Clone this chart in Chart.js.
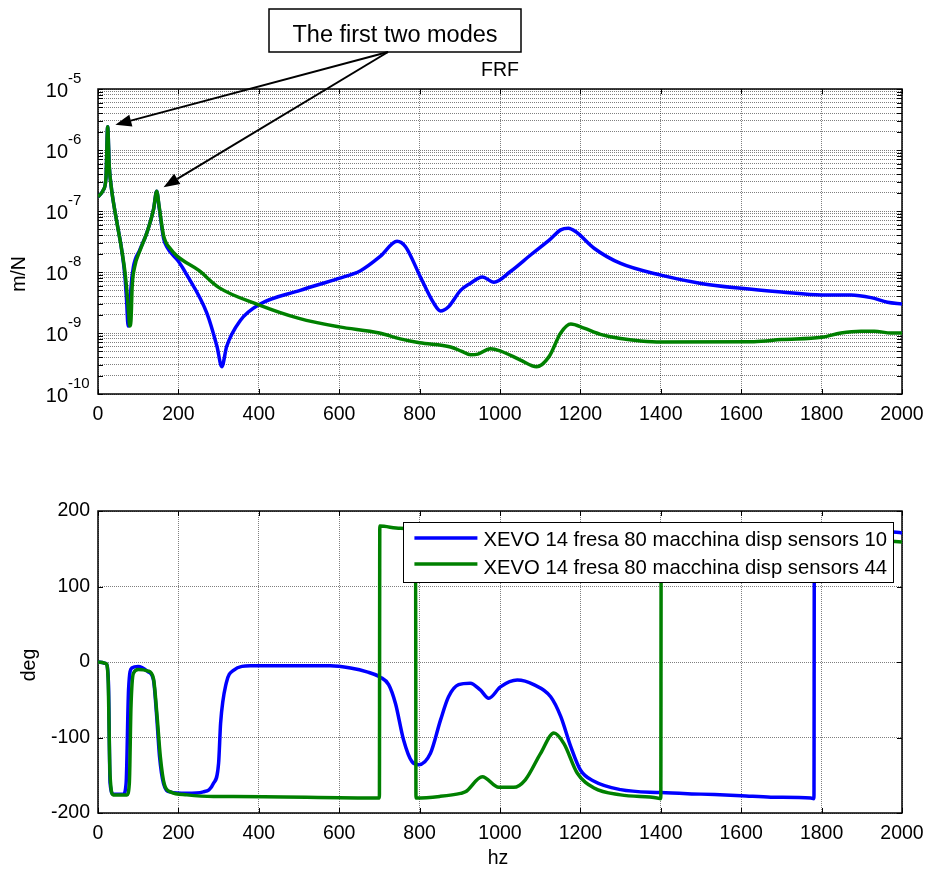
<!DOCTYPE html>
<html>
<head>
<meta charset="utf-8">
<title>FRF</title>
<script src="https://cdn.jsdelivr.net/npm/chart.js@4.4.0/dist/chart.umd.min.js"></script>
<style>
  body { margin: 0; background: #fff; }
  #wrap { position: relative; width: 925px; height: 869px; }
  #magChart { position: absolute; left: 0; top: 0; }
  #phaseChart { position: absolute; left: 0; top: 440px; }
</style>
</head>
<body>
<div id="wrap">
  <canvas id="magChart" width="925" height="440"></canvas>
  <canvas id="phaseChart" width="925" height="429"></canvas>
</div>
<script>
// series names
const seriesLabels = [
  'XEVO 14 fresa 80 macchina disp sensors 10',
  'XEVO 14 fresa 80 macchina disp sensors 44'
];
const seriesColors = ['#0000ff', '#008000'];

// magnitude (m/N) - sensor 10
const blueMagHz = [0, 13, 20, 24, 28, 34, 46, 59, 67, 71, 75, 78, 82, 88, 104, 121, 138, 146, 152, 163,
  171, 200, 221, 271, 296, 308, 320, 354, 400, 503, 597, 653, 702, 744, 765, 802, 835, 852, 872, 902,
  926, 956, 985, 1026, 1076, 1126, 1151, 1170, 1188, 1234, 1300, 1400, 1500, 1600, 1700, 1800, 1873, 1923, 1964, 2000];
const blueMag = [1.7e-7, 2.2e-7, 3.6e-7, 2.4e-6, 5.4e-7, 2.2e-7, 7.1e-8, 2.3e-8, 8.5e-9, 3.5e-9, 1.3e-9, 1.6e-9, 5.5e-9, 1.2e-8, 2.3e-8, 4.3e-8, 1.05e-7, 2.1e-7, 1.15e-7, 3.6e-8,
  2.6e-8, 1.5e-8, 9.0e-9, 2.1e-9, 6.0e-10, 2.8e-10, 6.0e-10, 1.6e-9, 2.9e-9, 5.0e-9, 7.8e-9, 1.05e-8, 1.8e-8, 3.2e-8, 2.6e-8, 8.3e-9, 3.1e-9, 2.3e-9, 2.7e-9, 5.0e-9,
  6.5e-9, 8.3e-9, 6.8e-9, 1.02e-8, 1.9e-8, 3.5e-8, 4.9e-8, 5.2e-8, 4.6e-8, 2.45e-8, 1.38e-8, 8.9e-9, 6.5e-9, 5.4e-9, 4.7e-9, 4.2e-9, 4.2e-9, 3.8e-9, 3.2e-9, 3.0e-9];

// magnitude (m/N) - sensor 44
const greenMagHz = [0, 13, 20, 24, 28, 34, 46, 59, 67, 73, 76, 79, 82, 85, 91, 105, 121, 138, 146, 152,
  163, 180, 200, 250, 300, 400, 500, 600, 700, 752, 800, 877, 905, 927, 945, 976, 1000, 1051, 1091, 1122,
  1151, 1176, 1209, 1250, 1300, 1350, 1400, 1632, 1700, 1800, 1848, 1898, 1931, 1973, 2000];
const greenMag = [1.7e-7, 2.2e-7, 3.6e-7, 2.4e-6, 5.4e-7, 2.2e-7, 7.1e-8, 2.3e-8, 1.0e-8, 4.0e-9, 2.2e-9, 1.3e-9, 1.6e-9, 5.8e-9, 1.2e-8, 2.3e-8, 4.3e-8, 1.05e-7, 2.1e-7, 1.2e-7,
  4.0e-8, 2.4e-8, 1.75e-8, 1.07e-8, 5.6e-9, 2.9e-9, 1.74e-9, 1.26e-9, 1.0e-9, 8.0e-10, 6.9e-10, 5.9e-10, 5.0e-10, 4.4e-10, 4.5e-10, 5.5e-10, 5.1e-10, 3.6e-10, 2.8e-10, 4.1e-10,
  1.0e-9, 1.4e-9, 1.2e-9, 9.5e-10, 8.1e-10, 7.4e-10, 7.1e-10, 7.2e-10, 7.8e-10, 8.5e-10, 1.0e-9, 1.07e-9, 1.07e-9, 1.0e-9, 1.0e-9];

// phase (deg) - sensor 10
const bluePhaseHz = [0, 20, 26, 30, 38, 63, 70, 76, 84, 100, 125, 138, 146, 153, 163, 179, 221, 262, 287, 300,
  305, 319, 337, 379, 578, 628, 669, 702, 723, 740, 760, 781, 798, 827, 852, 872, 897, 926, 951, 972,
  1001, 1043, 1084, 1126, 1151, 1176, 1200, 1234, 1300, 1400, 1500, 1600, 1674, 1773, 1781, 1782, 1900, 2000];
const bluePhase = [0, -2, -28, -160, -175, -175, -160, -37, -8, -6, -13, -24, -72, -125, -161, -172, -174, -172, -161, -134,
  -81, -28, -11, -5, -5, -8, -13, -20, -30, -55, -103, -132, -136, -121, -77, -46, -30, -28, -37, -48,
  -33, -24, -30, -46, -72, -112, -143, -158, -169, -173, -175, -177, -179, -180, -181, 180, 176, 171];

// phase (deg) - sensor 44
const greenPhaseHz = [0, 20, 25, 30, 38, 72, 78, 82, 88, 100, 125, 138, 147, 155, 165, 180, 221, 287, 337, 700,
  701, 752, 790, 791, 850, 902, 914, 956, 997, 1034, 1063, 1101, 1134, 1159, 1192, 1234, 1300, 1391, 1400, 1401,
  1600, 1800, 2000];
const greenPhase = [0, -2, -20, -150, -176, -176, -160, -60, -15, -10, -12, -22, -72, -125, -162, -172, -176, -178, -178, -180,
  180, 177, 174, -180, -178, -174, -172, -152, -166, -166, -156, -121, -94, -108, -147, -167, -176, -180, -181, 180,
  174, 167, 159];

// axes
const xTicks = [0, 200, 400, 600, 800, 1000, 1200, 1400, 1600, 1800, 2000];
const magDecades = [1e-10, 1e-9, 1e-8, 1e-7, 1e-6, 1e-5];
const phaseTicks = [-200, -100, 0, 100, 200];

// annotation
const noteText = 'The first two modes';
const modeHz = [24, 146];
const modeMag = [2.4e-6, 2.1e-7];

const FONT = '"Liberation Sans", Arial, sans-serif';
Chart.defaults.font.family = FONT;
Chart.defaults.font.size = 19.5;
Chart.defaults.color = '#000';

function pairs(xs, ys) {
  return xs.map((x, i) => ({ x: x, y: ys[i] }));
}

function lineSet(i, xs, ys) {
  return {
    label: seriesLabels[i],
    data: pairs(xs, ys),
    borderColor: seriesColors[i],
    borderWidth: 3.5,
    borderJoinStyle: 'round',
    cubicInterpolationMode: 'monotone',
    pointRadius: 0,
    order: seriesLabels.length - i   // later series drawn on top, like matlab
  };
}

const gridOpts = { color: 'rgba(0,0,0,0.5)', lineWidth: 1, drawTicks: false };
const borderOpts = { display: false, dash: [1, 1] };

// box round the plot + inner tick marks (matlab style)
const frameTicks = {
  id: 'frameTicks',
  beforeDatasetsDraw(chart) {
    const { ctx, chartArea: a, scales: { x, y } } = chart;
    ctx.save();
    ctx.strokeStyle = '#000';
    ctx.lineWidth = 1;
    ctx.beginPath();
    x.ticks.forEach(t => {
      const px = Math.round(x.getPixelForValue(t.value)) + 0.5;
      ctx.moveTo(px, a.top); ctx.lineTo(px, a.top + 5);
      ctx.moveTo(px, a.bottom); ctx.lineTo(px, a.bottom - 5);
    });
    y.ticks.forEach(t => {
      const py = Math.round(y.getPixelForValue(t.value)) + 0.5;
      ctx.moveTo(a.left, py); ctx.lineTo(a.left + 5, py);
      ctx.moveTo(a.right, py); ctx.lineTo(a.right - 5, py);
    });
    ctx.stroke();
    ctx.lineWidth = 1.5;
    ctx.strokeRect(a.left, a.top, a.right - a.left, a.bottom - a.top);
    ctx.restore();
  }
};

// 10^n labels for the log axis
const logLabels = {
  id: 'logLabels',
  afterDraw(chart) {
    const { ctx, chartArea: a, scales: { y } } = chart;
    ctx.save();
    ctx.fillStyle = '#000';
    ctx.textBaseline = 'alphabetic';
    magDecades.forEach(d => {
      const py = y.getPixelForValue(d);
      ctx.font = '20px ' + FONT;
      ctx.textAlign = 'right';
      ctx.fillText('10', a.left - 30, py + 8);
      ctx.font = '15px ' + FONT;
      ctx.textAlign = 'left';
      ctx.fillText(String(Math.round(Math.log10(d))), a.left - 30, py - 6);
    });
    ctx.font = '19.5px ' + FONT;
    ctx.translate(a.left - 78, a.top + 185);
    ctx.rotate(-Math.PI / 2);
    ctx.textAlign = 'center';
    ctx.textBaseline = 'middle';
    ctx.fillText('m/N', 0, 0);
    ctx.restore();
  }
};

// text box with arrows to the first two peaks
const modeNote = {
  id: 'modeNote',
  afterDraw(chart) {
    const { ctx, chartArea: a, scales: { x, y } } = chart;
    const bx = a.left + 171, by = a.top - 80, bw = 252, bh = 43;
    ctx.save();
    ctx.fillStyle = '#fff';
    ctx.fillRect(bx, by, bw, bh);
    ctx.strokeStyle = '#000';
    ctx.lineWidth = 1.5;
    ctx.strokeRect(bx, by, bw, bh);
    ctx.fillStyle = '#000';
    ctx.font = '23.5px ' + FONT;
    ctx.textAlign = 'center';
    ctx.textBaseline = 'alphabetic';
    ctx.fillText(noteText, bx + 126, by + 33);

    const ox = bx + 119, oy = by + bh;
    modeHz.forEach((f, i) => {
      const px = x.getPixelForValue(f), py = y.getPixelForValue(modeMag[i]);
      const dx = px - ox, dy = py - oy, len = Math.hypot(dx, dy);
      const ux = dx / len, uy = dy / len;
      const tx = px - ux * 8, ty = py - uy * 8;
      const hx = tx - ux * 16, hy = ty - uy * 16;
      ctx.lineWidth = 2;
      ctx.beginPath();
      ctx.moveTo(ox, oy);
      ctx.lineTo(hx, hy);
      ctx.stroke();
      ctx.beginPath();
      ctx.moveTo(tx, ty);
      ctx.lineTo(hx - uy * 6, hy + ux * 6);
      ctx.lineTo(hx + uy * 6, hy - ux * 6);
      ctx.closePath();
      ctx.fill();
    });
    ctx.restore();
  }
};

// legend box inside the phase plot
const boxLegend = {
  id: 'boxLegend',
  afterDatasetsDraw(chart) {
    const { ctx, chartArea: a } = chart;
    const sets = chart.data.datasets;
    ctx.save();
    ctx.font = '20.3px ' + FONT;
    const tw = Math.max(...sets.map(d => ctx.measureText(d.label).width));
    const right = a.right - 9, left = right - 6 - tw - 80, top = a.top + 11, h = 60;
    ctx.fillStyle = '#fff';
    ctx.fillRect(left, top, right - left, h);
    ctx.strokeStyle = '#000';
    ctx.lineWidth = 1;
    ctx.strokeRect(Math.round(left) + 0.5, top + 0.5, right - Math.round(left), h);
    sets.forEach((d, i) => {
      const ly = top + 16 + 26 * i;
      ctx.strokeStyle = d.borderColor;
      ctx.lineWidth = 3.5;
      ctx.beginPath();
      ctx.moveTo(left + 11, ly);
      ctx.lineTo(left + 74, ly);
      ctx.stroke();
      ctx.fillStyle = '#000';
      ctx.textAlign = 'left';
      ctx.textBaseline = 'alphabetic';
      ctx.fillText(d.label, left + 80, top + 24 + 28 * i);
    });
    ctx.restore();
  }
};

const phaseTitles = {
  id: 'phaseTitles',
  afterDraw(chart) {
    const { ctx, chartArea: a } = chart;
    ctx.save();
    ctx.fillStyle = '#000';
    ctx.font = '19.5px ' + FONT;
    ctx.textAlign = 'center';
    ctx.textBaseline = 'middle';
    ctx.fillText('hz', (a.left + a.right) / 2 - 2, a.bottom + 46);
    ctx.translate(a.left - 68, (a.top + a.bottom) / 2 + 3);
    ctx.rotate(-Math.PI / 2);
    ctx.fillText('deg', 0, 0);
    ctx.restore();
  }
};

const xScale = (h) => ({
  type: 'linear',
  min: 0,
  max: 2000,
  afterBuildTicks: s => { s.ticks = xTicks.map(v => ({ value: v })); },
  afterFit: s => {
    s.height = h;
    // let the end labels hang over, like matlab does
    s.paddingLeft = 0;
    s.paddingRight = 0;
  },
  ticks: { padding: 9, maxRotation: 0, autoSkip: false, color: '#000', callback: v => String(v) },
  grid: gridOpts,
  border: borderOpts
});

new Chart(document.getElementById('magChart'), {
  type: 'line',
  data: {
    datasets: [lineSet(0, blueMagHz, blueMag), lineSet(1, greenMagHz, greenMag)]
  },
  options: {
    responsive: false,
    animation: false,
    layout: { padding: { left: 0, right: 23, top: 58.6, bottom: 0 } },
    plugins: {
      legend: { display: false },
      tooltip: { enabled: false },
      title: {
        display: true,
        text: 'FRF',
        fullSize: false,
        color: '#000',
        font: { size: 19.5, weight: 'normal' },
        padding: { top: 0, bottom: 7 }
      }
    },
    scales: {
      x: xScale(46),
      y: {
        type: 'logarithmic',
        min: 1e-10,
        max: 1e-5,
        afterBuildTicks: s => {
          const t = [];
          magDecades.forEach((d, i) => {
            for (let m = 1; m <= 9; m++) {
              if (i < magDecades.length - 1 || m === 1) t.push({ value: d * m, major: m === 1 });
            }
          });
          s.ticks = t;
        },
        afterFit: s => { s.width = 98; },
        ticks: { display: false },
        grid: gridOpts,
        border: borderOpts
      }
    }
  },
  plugins: [frameTicks, logLabels, modeNote]
});

new Chart(document.getElementById('phaseChart'), {
  type: 'line',
  data: {
    datasets: [lineSet(0, bluePhaseHz, bluePhase), lineSet(1, greenPhaseHz, greenPhase)]
  },
  options: {
    responsive: false,
    animation: false,
    layout: { padding: { left: 0, right: 23, top: 71, bottom: 0 } },
    plugins: {
      legend: { display: false },
      tooltip: { enabled: false }
    },
    scales: {
      x: xScale(56),
      y: {
        type: 'linear',
        min: -200,
        max: 200,
        afterBuildTicks: s => { s.ticks = phaseTicks.map(v => ({ value: v })); },
        afterFit: s => { s.width = 98; },
        ticks: { padding: 8, color: '#000' },
        grid: gridOpts,
        border: borderOpts
      }
    }
  },
  plugins: [frameTicks, boxLegend, phaseTitles]
});
</script>
</body>
</html>
